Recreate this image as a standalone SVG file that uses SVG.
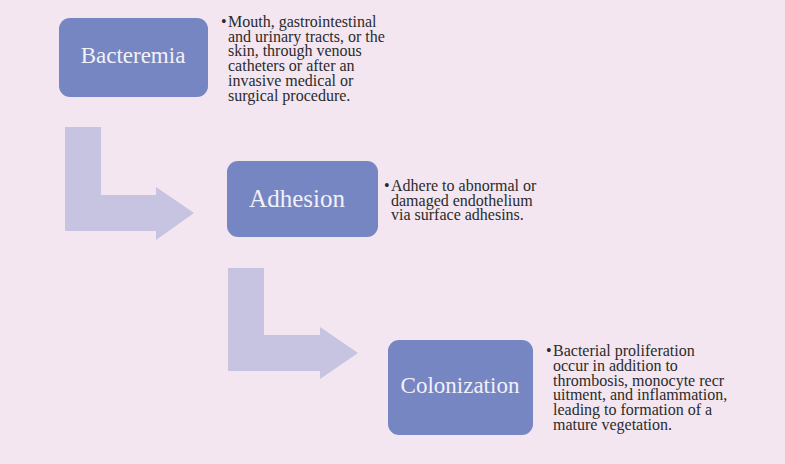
<svg xmlns="http://www.w3.org/2000/svg" width="785" height="464" viewBox="0 0 785 464">
<style>
.bg{fill:#f3e6f0}
.box{fill:#7686c3}
.arr{fill:#c6c4e1}
.lbl{font-family:"Liberation Serif",serif;font-size:23px;fill:#f1f1fa;text-anchor:middle}
.body{font-family:"Liberation Serif",serif;font-size:16px;fill:#2b2b2b}
</style>
<rect class="bg" x="0" y="0" width="785" height="464"/>
<g id="connectors">
<polygon class="arr" points="65,127 101,127 101,195 156,195 156,187 194,213 156,240 156,231 65,231"/>
<polygon class="arr" points="228,268 264,268 264,335 320,335 320,327 358,353 320,379 320,371 228,371"/>
</g>
<g id="bacteremia">
<rect class="box" x="59" y="18" width="149" height="79" rx="11"/>
<text class="lbl" x="133" y="63">Bacteremia</text>
<text class="body"><tspan x="221" y="27">•</tspan><tspan x="228" y="27">Mouth, gastrointestinal</tspan><tspan x="228" y="41.7">and urinary tracts, or the</tspan><tspan x="228" y="56.4">skin, through venous</tspan><tspan x="228" y="71.1">catheters or after an</tspan><tspan x="228" y="85.8">invasive medical or</tspan><tspan x="228" y="100.5">surgical procedure.</tspan></text>
</g>
<g id="adhesion">
<rect class="box" x="227" y="161" width="151" height="76" rx="11"/>
<text class="lbl" x="297" y="207" style="font-size:25px">Adhesion</text>
<text class="body"><tspan x="384" y="191">•</tspan><tspan x="391" y="191">Adhere to abnormal or</tspan><tspan x="391" y="205.5">damaged endothelium</tspan><tspan x="391" y="220">via surface adhesins.</tspan></text>
</g>
<g id="colonization">
<rect class="box" x="388" y="340" width="145" height="95" rx="11"/>
<text class="lbl" x="460" y="393">Colonization</text>
<text class="body"><tspan x="546" y="356">•</tspan><tspan x="553" y="356">Bacterial proliferation</tspan><tspan x="553" y="370.8">occur in addition to</tspan><tspan x="553" y="385.6">thrombosis, monocyte recr</tspan><tspan x="553" y="400.4">uitment, and inflammation,</tspan><tspan x="553" y="415.2">leading to formation of a</tspan><tspan x="553" y="430">mature vegetation.</tspan></text>
</g>
</svg>
